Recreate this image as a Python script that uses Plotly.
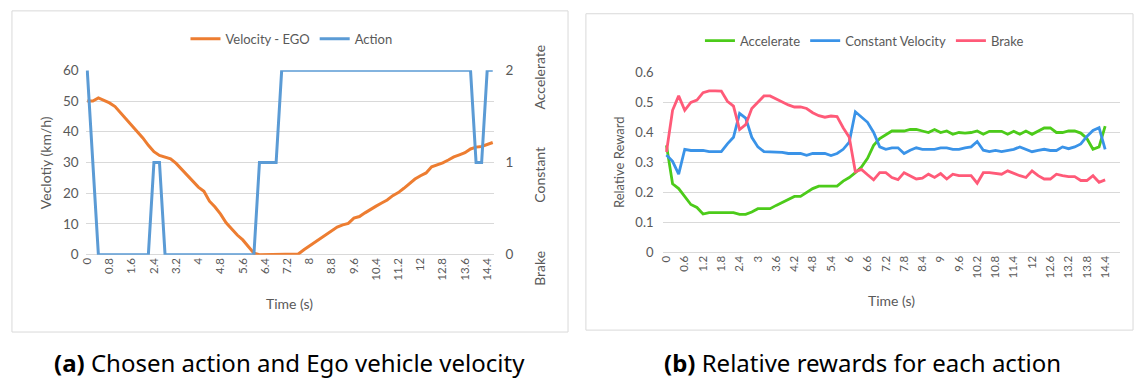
import plotly.graph_objects as go

W, H = 1136, 387

# ---------------- data ----------------
time_a = [0, 0.2, 0.4, 0.6, 0.8, 1, 1.2, 1.4, 1.6, 1.8, 2, 2.2, 2.4, 2.6, 2.8, 3, 3.2, 3.4, 3.6, 3.8,
          4, 4.2, 4.4, 4.6, 4.8, 5, 5.2, 5.4, 5.6, 5.8, 6, 6.2, 6.4, 6.6, 6.8, 7, 7.2, 7.4, 7.6, 7.8,
          8, 8.2, 8.4, 8.6, 8.8, 9, 9.2, 9.4, 9.6, 9.8, 10, 10.2, 10.4, 10.6, 10.8, 11, 11.2, 11.4, 11.6, 11.8,
          12, 12.2, 12.4, 12.6, 12.8, 13, 13.2, 13.4, 13.6, 13.8, 14, 14.2, 14.4, 14.6]

velocity = [50, 50, 51, 50.3, 49.4, 48.2, 46.2, 44, 42.3, 40.2,
            38, 35.6, 33.5, 32.3, 31.8, 31.2, 29.7, 27.8, 26, 24,
            22, 20.6, 17.4, 15.5, 13.2, 10.4, 8.4, 6.4, 4.8, 2.6,
            0.5, 0, 0, 0, 0, 0, 0, 0, 0.2, 1.6,
            2.8, 4, 5.4, 6.6, 7.8, 9, 9.7, 10.2, 11.9, 12.4,
            13.6, 14.8, 15.8, 16.8, 17.8, 19.2, 20.2, 21.6, 23.2, 24.6,
            25.7, 26.6, 28.6, 29.2, 29.9, 30.8, 31.8, 32.5, 33.2, 34.4,
            35, 35.2, 35.9, 36.5]

action = [2, 1, 0, 0, 0, 0, 0, 0, 0, 0,
          0, 0, 1, 1, 0, 0, 0, 0, 0, 0,
          0, 0, 0, 0, 0, 0, 0, 0, 0, 0,
          0, 1, 1, 1, 1, 2, 2, 2, 2, 2,
          2, 2, 2, 2, 2, 2, 2, 2, 2, 2,
          2, 2, 2, 2, 2, 2, 2, 2, 2, 2,
          2, 2, 2, 2, 2, 2, 2, 2, 2, 2,
          1, 1, 2, 2]

time_b = time_a[:73]

accelerate = [0.357, 0.229, 0.213, 0.187, 0.16, 0.15, 0.128, 0.133, 0.133, 0.133,
              0.133, 0.133, 0.127, 0.127, 0.135, 0.146, 0.146, 0.146, 0.157, 0.167,
              0.178, 0.187, 0.187, 0.2, 0.213, 0.221, 0.221, 0.221, 0.221, 0.238,
              0.25, 0.266, 0.285, 0.314, 0.357, 0.38, 0.394, 0.405, 0.405, 0.405,
              0.41, 0.41, 0.405, 0.40, 0.41, 0.40, 0.405, 0.394, 0.40, 0.398,
              0.40, 0.405, 0.394, 0.404, 0.404, 0.404, 0.394, 0.404, 0.394, 0.405,
              0.394, 0.405, 0.415, 0.415, 0.40, 0.40, 0.405, 0.405, 0.398, 0.38,
              0.344, 0.352, 0.421]

constant = [0.325, 0.304, 0.261, 0.344, 0.34, 0.34, 0.34, 0.336, 0.336, 0.336,
            0.362, 0.384, 0.464, 0.448, 0.384, 0.352, 0.336, 0.336, 0.336, 0.334,
            0.33, 0.33, 0.33, 0.324, 0.33, 0.33, 0.33, 0.323, 0.33, 0.344,
            0.368, 0.469, 0.453, 0.434, 0.40, 0.352, 0.344, 0.349, 0.349, 0.33,
            0.341, 0.349, 0.344, 0.344, 0.344, 0.349, 0.349, 0.344, 0.344, 0.349,
            0.352, 0.37, 0.341, 0.336, 0.34, 0.336, 0.34, 0.344, 0.352, 0.344,
            0.336, 0.34, 0.344, 0.34, 0.34, 0.352, 0.346, 0.352, 0.362, 0.387,
            0.407, 0.416, 0.344]

brake = [0.335, 0.474, 0.522, 0.474, 0.50, 0.508, 0.533, 0.539, 0.539, 0.538,
         0.504, 0.488, 0.41, 0.426, 0.48, 0.50, 0.522, 0.522, 0.512, 0.50,
         0.492, 0.485, 0.485, 0.48, 0.466, 0.456, 0.451, 0.455, 0.453, 0.416,
         0.384, 0.269, 0.277, 0.259, 0.242, 0.266, 0.266, 0.25, 0.243, 0.266,
         0.256, 0.245, 0.248, 0.261, 0.25, 0.263, 0.245, 0.261, 0.256, 0.256,
         0.256, 0.231, 0.266, 0.266, 0.263, 0.261, 0.272, 0.263, 0.256, 0.25,
         0.272, 0.256, 0.245, 0.245, 0.261, 0.256, 0.253, 0.253, 0.24, 0.24,
         0.256, 0.234, 0.242]

ticks_a = [0, 0.8, 1.6, 2.4, 3.2, 4, 4.8, 5.6, 6.4, 7.2, 8, 8.8, 9.6, 10.4, 11.2, 12, 12.8, 13.6, 14.4]
ticks_b = [0, 0.6, 1.2, 1.8, 2.4, 3, 3.6, 4.2, 4.8, 5.4, 6, 6.6, 7.2, 7.8, 8.4, 9, 9.6, 10.2,
           10.8, 11.4, 12, 12.6, 13.2, 13.8, 14.4]
action_ticks = [0, 1, 2]
action_names = ["Brake", "Constant", "Accelerate"]

# ---------------- style ----------------
FONT = "Lato"
GREY = "#595959"
GRID = "#d9d9d9"

def px_x(p):
    return p / W

def px_y(p):
    return 1 - p / H

fig = go.Figure()
fig.add_trace(go.Scatter(x=time_a, y=velocity, name="Velocity - EGO", mode="lines",
                         line=dict(color="#ED7D31", width=3), xaxis="x", yaxis="y",
                         legend="legend"))
fig.add_trace(go.Scatter(x=time_a, y=action, name="Action", mode="lines",
                         line=dict(color="#5B9BD5", width=3), xaxis="x", yaxis="y2",
                         legend="legend"))
fig.add_trace(go.Scatter(x=time_b, y=accelerate, name="Accelerate", mode="lines",
                         line=dict(color="#4CCB1A", width=2.8), xaxis="x2", yaxis="y3",
                         legend="legend2"))
fig.add_trace(go.Scatter(x=time_b, y=constant, name="Constant Velocity", mode="lines",
                         line=dict(color="#3A93E8", width=2.8), xaxis="x2", yaxis="y3",
                         legend="legend2"))
fig.add_trace(go.Scatter(x=time_b, y=brake, name="Brake", mode="lines",
                         line=dict(color="#FF5A78", width=2.8), xaxis="x2", yaxis="y3",
                         legend="legend2"))

xcommon = dict(tickangle=-90, showgrid=False, zeroline=False, showline=False, ticks="",
               tickfont=dict(family=FONT, size=11.5, color=GREY), fixedrange=True)
ycommon = dict(showgrid=True, gridcolor=GRID, gridwidth=1, zeroline=True, zerolinecolor=GRID,
               zerolinewidth=1, showline=False, ticks="", fixedrange=True)

annotations = []
def ann(text, x, y, size, angle=0, xref="paper", yref="paper", yshift=0, xanchor="center"):
    annotations.append(dict(text=text, x=x, y=y, xref=xref, yref=yref, showarrow=False,
                            textangle=angle, xanchor=xanchor, yanchor="middle", yshift=yshift,
                            font=dict(family=FONT, size=size, color=GREY)))

# axis titles
ann("Veclotiy (km/h)", px_x(40), px_y(161), 14, angle=-90)
ann("Time (s)", px_x(285), px_y(308), 14)
ann("Relative Reward", px_x(617), px_y(161), 13, angle=-90)
ann("Time (s)", px_x(890), px_y(305), 14)
# secondary axis category names
shifts = [-14, -12, -7]
for v, name, s in zip(action_ticks, action_names, shifts):
    ann(name, px_x(536), v, 14, angle=-90, yref="y2", yshift=s)

# captions
annotations.append(dict(text="<b>(a)</b> Chosen action and Ego vehicle velocity",
                        x=px_x(285.5), y=px_y(370), xref="paper", yref="paper", showarrow=False,
                        xanchor="center", yanchor="middle",
                        font=dict(family="Noto Sans", size=24, color="#000000")))
annotations.append(dict(text="<b>(b)</b> Relative rewards for each action",
                        x=px_x(861.5), y=px_y(370), xref="paper", yref="paper", showarrow=False,
                        xanchor="center", yanchor="middle",
                        font=dict(family="Noto Sans", size=24, color="#000000")))

fig.update_layout(
    width=W, height=H, margin=dict(l=0, r=0, t=0, b=0),
    paper_bgcolor="white", plot_bgcolor="white",
    font=dict(family=FONT, color=GREY),
    xaxis=dict(domain=[px_x(80), px_x(491)], range=[-0.061, 14.66], anchor="y",
               tickvals=ticks_a, ticktext=[f"{t:g}" for t in ticks_a], **xcommon),
    yaxis=dict(domain=[px_y(257.3), px_y(65)], range=[0, 60], dtick=10, anchor="x",
               tickfont=dict(family=FONT, size=13.5, color=GREY), ticklabelstandoff=6, **ycommon),
    yaxis2=dict(overlaying="y", side="right", range=[0, 2], tickvals=action_ticks, anchor="x",
                showgrid=False, zeroline=False, showline=False, ticks="", fixedrange=True,
                ticklabelstandoff=10, tickfont=dict(family=FONT, size=13.5, color=GREY)),
    xaxis2=dict(domain=[px_x(660), px_x(1120)], range=[-0.13, 14.89], anchor="y3",
                tickvals=ticks_b, ticktext=[f"{t:g}" for t in ticks_b], **xcommon),
    yaxis3=dict(domain=[px_y(255), px_y(67.3)], range=[0, 0.6], dtick=0.1, anchor="x2",
                tickfont=dict(family=FONT, size=13, color=GREY), ticklabelstandoff=8, **ycommon),
    legend=dict(orientation="h", x=px_x(287), xanchor="center", y=px_y(32), yanchor="middle",
                font=dict(family=FONT, size=13, color=GREY), bgcolor="rgba(0,0,0,0)",
                itemwidth=30, tracegroupgap=0),
    legend2=dict(orientation="h", x=px_x(863), xanchor="center", y=px_y(34), yanchor="middle",
                 font=dict(family=FONT, size=13, color=GREY), bgcolor="rgba(0,0,0,0)",
                 itemwidth=30, tracegroupgap=0),
    shapes=[
        dict(type="rect", xref="paper", yref="paper", x0=px_x(6), x1=px_x(565), y0=px_y(338), y1=px_y(3),
             line=dict(color=GRID, width=1), layer="below"),
        dict(type="rect", xref="paper", yref="paper", x0=px_x(583), x1=px_x(1133), y0=px_y(336), y1=px_y(6),
             line=dict(color=GRID, width=1), layer="below"),
    ],
    annotations=annotations,
    showlegend=True,
)

fig.write_html("out.html")
